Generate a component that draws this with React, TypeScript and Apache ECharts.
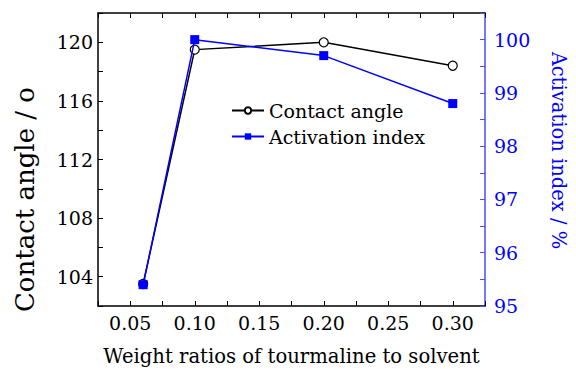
import React, { useEffect, useRef } from "react";
import * as echarts from "echarts";

// Weight ratio of tourmaline to solvent
const ratios = [0.06, 0.1, 0.2, 0.3];
// Contact angle (degrees)
const contactAngle = [103.5, 119.5, 120.0, 118.4];
// Activation index (%)
const activationIndex = [95.4, 100.0, 99.7, 98.8];

const FONT = "DejaVu Serif";
const BLUE = "#0000ff";

const isMultiple = (v: number, step: number) =>
  Math.abs(v / step - Math.round(v / step)) < 1e-6;

export default function App() {
  const ref = useRef<HTMLDivElement>(null);

  useEffect(() => {
    if (!ref.current) return;
    const chart = echarts.init(ref.current, undefined, { renderer: "svg" });

    const xCommon = {
      type: "value" as const,
      min: 0.025,
      max: 0.325,
      interval: 0.025,
      splitLine: { show: false },
      axisLine: { onZero: false, lineStyle: { color: "#000", width: 1.5 } },
      axisTick: { inside: true, length: 5, lineStyle: { color: "#000", width: 1 } },
    };

    chart.setOption({
      animation: false,
      textStyle: { fontFamily: FONT },
      grid: { left: 98, right: 79, top: 13, bottom: 62, containLabel: false },
      legend: {
        orient: "vertical",
        left: 226,
        top: 96,
        itemWidth: 32,
        itemHeight: 8,
        itemGap: 7,
        textStyle: { fontFamily: FONT, fontSize: 19, color: "#000" },
        data: ["Contact angle", "Activation index"],
      },
      xAxis: [
        {
          ...xCommon,
          position: "bottom",
          name: "Weight ratios of tourmaline to solvent",
          nameLocation: "middle",
          nameGap: 40,
          nameTextStyle: { fontFamily: FONT, fontSize: 19.6, color: "#000" },
          axisLabel: {
            margin: 7,
            fontFamily: FONT,
            fontSize: 19,
            color: "#000",
            formatter: (v: number) => (isMultiple(v, 0.05) && v < 0.31 ? v.toFixed(2) : ""),
          },
        },
        {
          ...xCommon,
          position: "top",
          axisLabel: { show: false },
        },
      ],
      yAxis: [
        {
          type: "value",
          position: "left",
          min: 102,
          max: 122,
          interval: 2,
          splitLine: { show: false },
          axisLine: { show: true, lineStyle: { color: "#000", width: 1.5 } },
          axisTick: { inside: true, length: 5, lineStyle: { color: "#000", width: 1 } },
          axisLabel: {
            margin: 5,
            fontFamily: FONT,
            fontSize: 19,
            color: "#000",
            formatter: (v: number) => (isMultiple(v, 4) && v < 121 ? String(v) : ""),
          },
          name: "Contact angle / o",
          nameLocation: "middle",
          nameRotate: 90,
          nameGap: 60,
          nameTextStyle: {
            fontFamily: FONT,
            fontSize: 26,
            color: "#000",
            padding: [0, 80, 0, 0],
          },
        },
        {
          type: "value",
          position: "right",
          min: 95,
          max: 100.5,
          interval: 0.5,
          splitLine: { show: false },
          axisLine: { show: true, lineStyle: { color: "#4a4aff", width: 1.5 } },
          axisTick: { inside: true, length: 5, lineStyle: { color: "#4a4aff", width: 1 } },
          axisLabel: {
            margin: 9,
            fontFamily: FONT,
            fontSize: 19,
            color: BLUE,
            formatter: (v: number) => (isMultiple(v, 1) && v < 100.2 ? String(v) : ""),
          },
          name: "Activation index / %",
          nameLocation: "middle",
          nameRotate: -90,
          nameGap: 63,
          nameTextStyle: {
            fontFamily: FONT,
            fontSize: 19.5,
            color: BLUE,
            padding: [0, 18, 0, 0],
          },
        },
      ],
      series: [
        {
          name: "Contact angle",
          type: "line",
          xAxisIndex: 0,
          yAxisIndex: 0,
          data: ratios.map((r, i) => [r, contactAngle[i]]),
          symbol: "circle",
          symbolSize: 9,
          lineStyle: { color: "#000", width: 1.5 },
          itemStyle: { color: "#fff", borderColor: "#000", borderWidth: 1.2 },
          z: 2,
        },
        {
          name: "Activation index",
          type: "line",
          xAxisIndex: 0,
          yAxisIndex: 1,
          data: ratios.map((r, i) => [r, activationIndex[i]]),
          symbol: "rect",
          symbolSize: 9,
          lineStyle: { color: BLUE, width: 1.5 },
          itemStyle: { color: BLUE, borderColor: BLUE, borderWidth: 0 },
          z: 3,
        },
      ],
    });

    return () => chart.dispose();
  }, []);

  return (
    <div
      ref={ref}
      style={{ position: "fixed", left: 0, top: 0, width: 576, height: 371, background: "#fff" }}
    />
  );
}
